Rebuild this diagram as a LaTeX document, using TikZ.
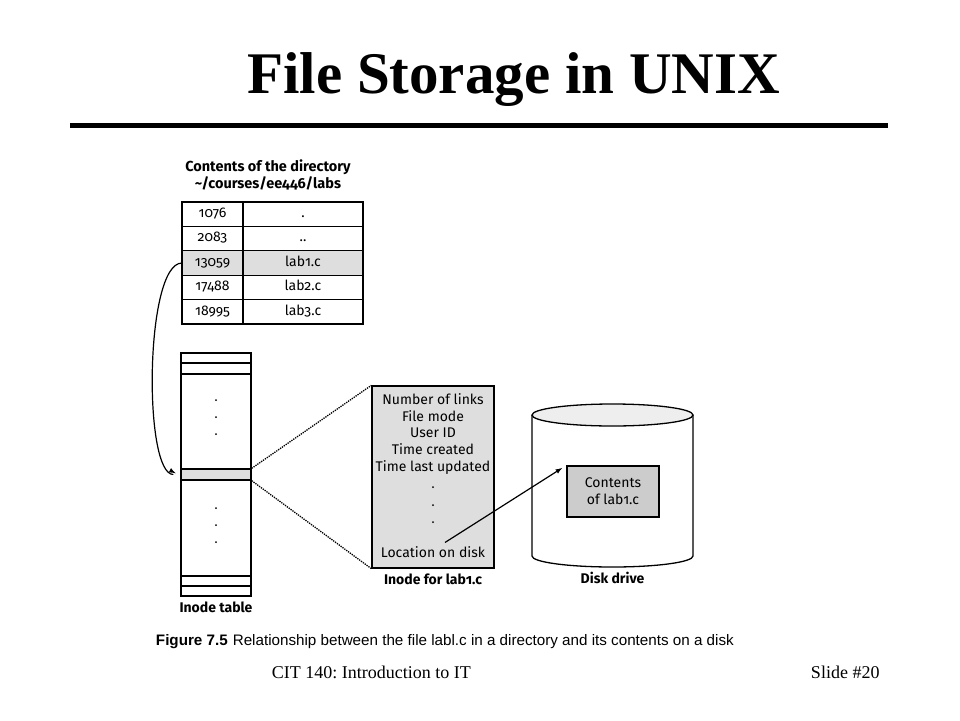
\documentclass[tikz,border=0pt]{standalone}
\usepackage{fontspec}
\setmainfont{Liberation Serif}
\setsansfont{Fira Sans}[Numbers=OldStyle]
\newfontfamily\capfont{Liberation Sans}
\usepackage{xcolor}
\definecolor{shade}{RGB}{222,222,222}
\definecolor{dark}{RGB}{204,204,204}
\definecolor{lid}{RGB}{238,238,238}
\usetikzlibrary{positioning, calc, shapes.geometric, arrows.meta, decorations.markings}
\tikzstyle{Arrow} = [
line width=1.2pt,
decoration={
markings,
mark=at position -5pt with {
\arrow[line width=1.2pt]{latex}}},
shorten >= 7pt, preaction = {decorate}]
\tikzstyle{cell} = [draw, inner sep=0pt, outer sep=0pt, minimum height=24.4pt,
text height=9pt, text depth=2.5pt]
\tikzstyle{Label} = [font=\sffamily\bfseries\fontsize{14}{17}\selectfont]
\frenchspacing

\begin{document}
\begin{tikzpicture}[x=1pt, y=-1pt, line width=1.3pt,
    font=\sffamily\fontsize{14}{16.75}\selectfont]
    \useasboundingbox (0,0) rectangle (960,720);

    \node [font=\rmfamily\bfseries\fontsize{59}{60}\selectfont, anchor=base] (title) at (513.5,93) {File Storage in UNIX};
    \draw [line width=4.5pt] (70,125.5) -- (888,125.5);

    \node [Label, font=\sffamily\bfseries\fontsize{14.5}{17}\selectfont, align=center] (dirhead) at (268,175) {Contents of the directory\\\textasciitilde/courses/ee446/labs};
    \foreach \n/\f/\c [count=\i] in {1076/./white, 2083/../white, 13059/lab1.c/shade, 17488/lab2.c/white, 18995/lab3.c/white}{
        \node [cell, fill=\c, minimum width=61pt] (num\i) at (212.5,{189.8+24.4*\i}) {\n};
        \node [cell, fill=\c, minimum width=120pt, right=0pt of num\i] (name\i) {\f};
    }

    \node [draw, minimum width=70pt, minimum height=243pt] (itable) at (216,474.5) {};
    \foreach \y in {363,374,576,586}
        \draw (itable.west |- 0,\y) -- (itable.east |- 0,\y);
    \node [draw, fill=shade, inner sep=0pt, minimum width=70pt, minimum height=11pt] (slot) at (itable.center) {};
    \foreach \y in {400,417,434,508,525,542}
        \fill (216,\y) circle (1pt);
    \node [Label, below=1pt of itable] (itlabel) {Inode table};

    \node [draw, fill=shade, minimum width=122pt, minimum height=182pt] (inode) at (433,477) {};
    \node [align=center, below=4pt of inode.north] (fields) {Number of links\\File mode\\User ID\\Time created\\Time last updated};
    \foreach \y in {487,505,522}
        \fill (433,\y) circle (1pt);
    \node (loc) at (433,552) {Location on disk};
    \node [Label, below=1pt of inode] (inlabel) {Inode for lab1.c};

    \draw [fill=white] (532,415) -- (532,556) arc [start angle=180, end angle=0, x radius=80.5, y radius=11] -- (693,415);
    \draw [fill=lid] (612.5,415) ellipse [x radius=80.5, y radius=11];
    \node [draw, fill=dark, align=center, minimum width=92pt, minimum height=51pt] (content) at (613,491.5) {Contents\\of lab1.c};
    \node [Label] (disklabel) at (612.5,578) {Disk drive};

    \draw [densely dotted] (slot.north east) -- (inode.north west);
    \draw [densely dotted] (slot.south east) -- (inode.south west);
    \draw[Arrow] (num3.west) to [out=180, in=180, looseness=0.45] (slot.west);
    \draw[Arrow] ([xshift=12pt]loc.north) -- (content.north west);

    \node [anchor=base west, font=\capfont\fontsize{15.2}{18}\selectfont] (caption) at (152,645) {\textbf{Figure 7.5}\hspace{5pt}Relationship between the file labl.c in a directory and its contents on a disk};
    \node [anchor=base west, font=\rmfamily\fontsize{18}{20}\selectfont] (course) at (268,678) {CIT 140: Introduction to IT};
    \node [anchor=base west, font=\rmfamily\fontsize{18}{20}\selectfont] (slide) at (807,678) {Slide \#20};
\end{tikzpicture}
\end{document}
